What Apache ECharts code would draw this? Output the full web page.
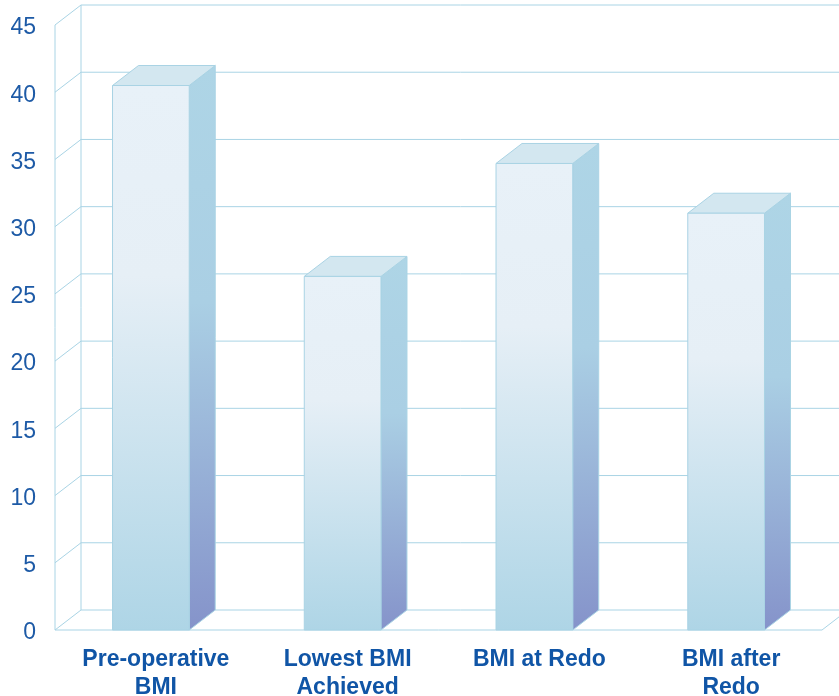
<!DOCTYPE html>
<html>
<head>
<meta charset="utf-8">
<title>BMI</title>
<script src="https://cdn.jsdelivr.net/npm/echarts@6/dist/echarts.min.js"></script>
<style>
  html, body { margin: 0; padding: 0; background: #fff; }
  #main { width: 839px; height: 696px; }
</style>
</head>
<body>
<div id="main"></div>
<script>
var categories = ['Pre-operative\nBMI', 'Lowest BMI\nAchieved', 'BMI at Redo', 'BMI after\nRedo'];
var bmiValues = [40.5, 26.3, 34.7, 31.0];
var yTicks = [0, 5, 10, 15, 20, 25, 30, 35, 40, 45];

// depth of the fake 3d box, in px
var DX = 26, DY = -20;
var lineColor = '#a9d4e5';

var chart = echarts.init(document.getElementById('main'));

function renderWalls(params, api) {
  var cs = params.coordSys;
  var v = api.value(1);
  var y = api.coord([0, v])[1];
  var left = cs.x, right = cs.x + cs.width;
  var kids = [];
  // diagonal on side wall + line along back wall
  kids.push({ type: 'polyline', shape: { points: [[left, y], [left + DX, y + DY], [right + DX, y + DY]] },
    style: { stroke: lineColor, lineWidth: 1, fill: null } });
  if (v === 0) {
    var top = api.coord([0, yTicks[yTicks.length - 1]])[1];
    // floor front edge and right diagonal
    kids.push({ type: 'polyline', shape: { points: [[left, y], [right, y], [right + DX, y + DY]] },
      style: { stroke: lineColor, lineWidth: 1, fill: null } });
    // wall verticals
    kids.push({ type: 'line', shape: { x1: left, y1: y, x2: left, y2: top },
      style: { stroke: lineColor, lineWidth: 1 } });
    kids.push({ type: 'line', shape: { x1: left + DX, y1: y + DY, x2: left + DX, y2: top + DY },
      style: { stroke: lineColor, lineWidth: 1 } });
  }
  return { type: 'group', children: kids };
}

function renderBar(params, api) {
  var idx = api.value(0);
  var top = api.coord([idx, api.value(1)]);
  var base = api.coord([idx, 0]);
  var w = api.size([1, 0])[0] * 0.4;
  var xl = top[0] - w / 2, xr = top[0] + w / 2;
  var yt = top[1], yb = base[1];
  var edge = '#a9d3e4';
  return {
    type: 'group',
    children: [
      { // side
        type: 'polygon',
        shape: { points: [[xr, yt], [xr + DX, yt + DY], [xr + DX, yb + DY], [xr, yb]] },
        style: {
          fill: new echarts.graphic.LinearGradient(0, 0, 0, 1, [
            { offset: 0, color: '#aed5e6' },
            { offset: 0.42, color: '#aacfe4' },
            { offset: 1, color: '#8593ca' }
          ]),
          stroke: edge, lineWidth: 1
        }
      },
      { // top
        type: 'polygon',
        shape: { points: [[xl, yt], [xl + DX, yt + DY], [xr + DX, yt + DY], [xr, yt]] },
        style: { fill: '#d3e7f0', stroke: edge, lineWidth: 1 }
      },
      { // front
        type: 'rect',
        shape: { x: xl, y: yt, width: w, height: yb - yt },
        style: {
          fill: new echarts.graphic.LinearGradient(0, 0, 0, 1, [
            { offset: 0, color: '#e8f1f8' },
            { offset: 0.35, color: '#e6eff6' },
            { offset: 1, color: '#aed5e6' }
          ]),
          stroke: edge, lineWidth: 1
        }
      }
    ]
  };
}

var option = {
  backgroundColor: '#ffffff',
  animation: false,
  grid: { left: 55, right: 17, top: 25, bottom: 66, outerBoundsMode: 'none', containLabel: false },
  xAxis: {
    type: 'category',
    data: categories,
    axisLine: { show: false },
    axisTick: { show: false },
    axisLabel: {
      margin: 16,
      padding: [0, 0, 0, 10],
      color: '#1055a6',
      fontFamily: 'Liberation Sans, Arial, sans-serif',
      fontWeight: 'bold',
      fontSize: 23,
      lineHeight: 28,
      interval: 0
    }
  },
  yAxis: {
    type: 'value',
    min: 0,
    max: 45,
    interval: 5,
    axisLine: { show: false },
    axisTick: { show: false },
    splitLine: { show: false },
    axisLabel: {
      margin: 19,
      color: '#1d5aa6',
      fontFamily: 'Liberation Sans, Arial, sans-serif',
      fontSize: 23,
      formatter: '{v|{value}}',
      rich: {
        v: { fontSize: 23, color: '#1d5aa6', padding: [6, 0, 0, 0] }
      }
    }
  },
  series: [
    {
      type: 'custom',
      renderItem: renderWalls,
      data: yTicks.map(function (t) { return [0, t]; }),
      encode: { x: 0, y: 1 },
      silent: true,
      z: 1
    },
    {
      type: 'custom',
      renderItem: renderBar,
      data: bmiValues.map(function (v, i) { return [i, v]; }),
      encode: { x: 0, y: 1 },
      z: 2
    }
  ]
};
chart.setOption(option);
</script>
</body>
</html>
